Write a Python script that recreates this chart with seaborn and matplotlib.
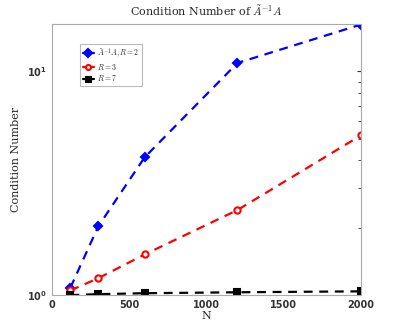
import numpy as np
import pandas as pd
import matplotlib
matplotlib.use("Agg")
import matplotlib.pyplot as plt
import seaborn as sns

# data
N = [120, 300, 600, 1200, 2000]
cond_r2 = [1.08, 2.03, 4.13, 10.9, 16.2]
cond_r3 = [1.05, 1.19, 1.52, 2.40, 5.18]
cond_r7 = [1.00, 1.01, 1.02, 1.03, 1.04]
labels = [r"$\tilde{A}^{-1}A, R=2$", r"$R=3$", r"$R=7$"]

sns.set_style("white")
plt.rcParams["mathtext.fontset"] = "cm"
plt.rcParams["font.family"] = ["DejaVu Sans"]

df = pd.DataFrame({
    "N": N * 3,
    "cond": cond_r2 + cond_r3 + cond_r7,
    "series": [labels[0]] * 5 + [labels[1]] * 5 + [labels[2]] * 5,
})

fig = plt.figure(figsize=(3.99, 3.32), dpi=100)
ax = fig.add_axes([0.130, 0.111, 0.775, 0.817])

styles = {labels[0]: ("blue", "D", "blue"),
          labels[1]: ("red", "o", "white"),
          labels[2]: ("black", "s", "black")}
for lab in labels:
    col, mk, fc = styles[lab]
    sns.lineplot(data=df[df.series == lab], x="N", y="cond", ax=ax,
                 color=col, marker=mk, markersize=4.5, markerfacecolor=fc,
                 markeredgecolor=col, markeredgewidth=1.5,
                 dashes=False, linewidth=1.6, label=lab)
for line in ax.get_lines():
    line.set_linestyle((0, (4, 3)))

ax.set_yscale("log")
ax.set_xlim(0, 2000)
ax.set_ylim(1, 16.3)
ax.set_xticks([0, 500, 1000, 1500, 2000])

ax.tick_params(which="both", direction="in", right=True,
               labelsize=7, colors="#333333", length=3)
ax.tick_params(which="minor", length=2)
for lab in ax.get_xticklabels() + ax.get_yticklabels():
    lab.set_fontweight("bold")
for sp in ax.spines.values():
    sp.set_color("#aaaaaa")
    sp.set_linewidth(0.8)

ax.set_title(r"Condition Number of $\tilde{A}^{-1}A$", fontsize=8,
             family="DejaVu Serif")
ax.set_xlabel("N", fontsize=8, family="DejaVu Serif", labelpad=1)
ax.set_ylabel("Condition Number", fontsize=8, family="DejaVu Serif")

leg = ax.legend(loc="upper left", bbox_to_anchor=(0.08, 0.94), fontsize=5.5,
                frameon=True, fancybox=False, edgecolor="#aaaaaa",
                handlelength=1.5, handletextpad=0.4, borderpad=0.3,
                labelspacing=0.2, markerscale=0.8)
leg.get_frame().set_linewidth(0.8)
for h in leg.legend_handles:
    h.set_linestyle("-")

fig.savefig("out.png", dpi=100)
